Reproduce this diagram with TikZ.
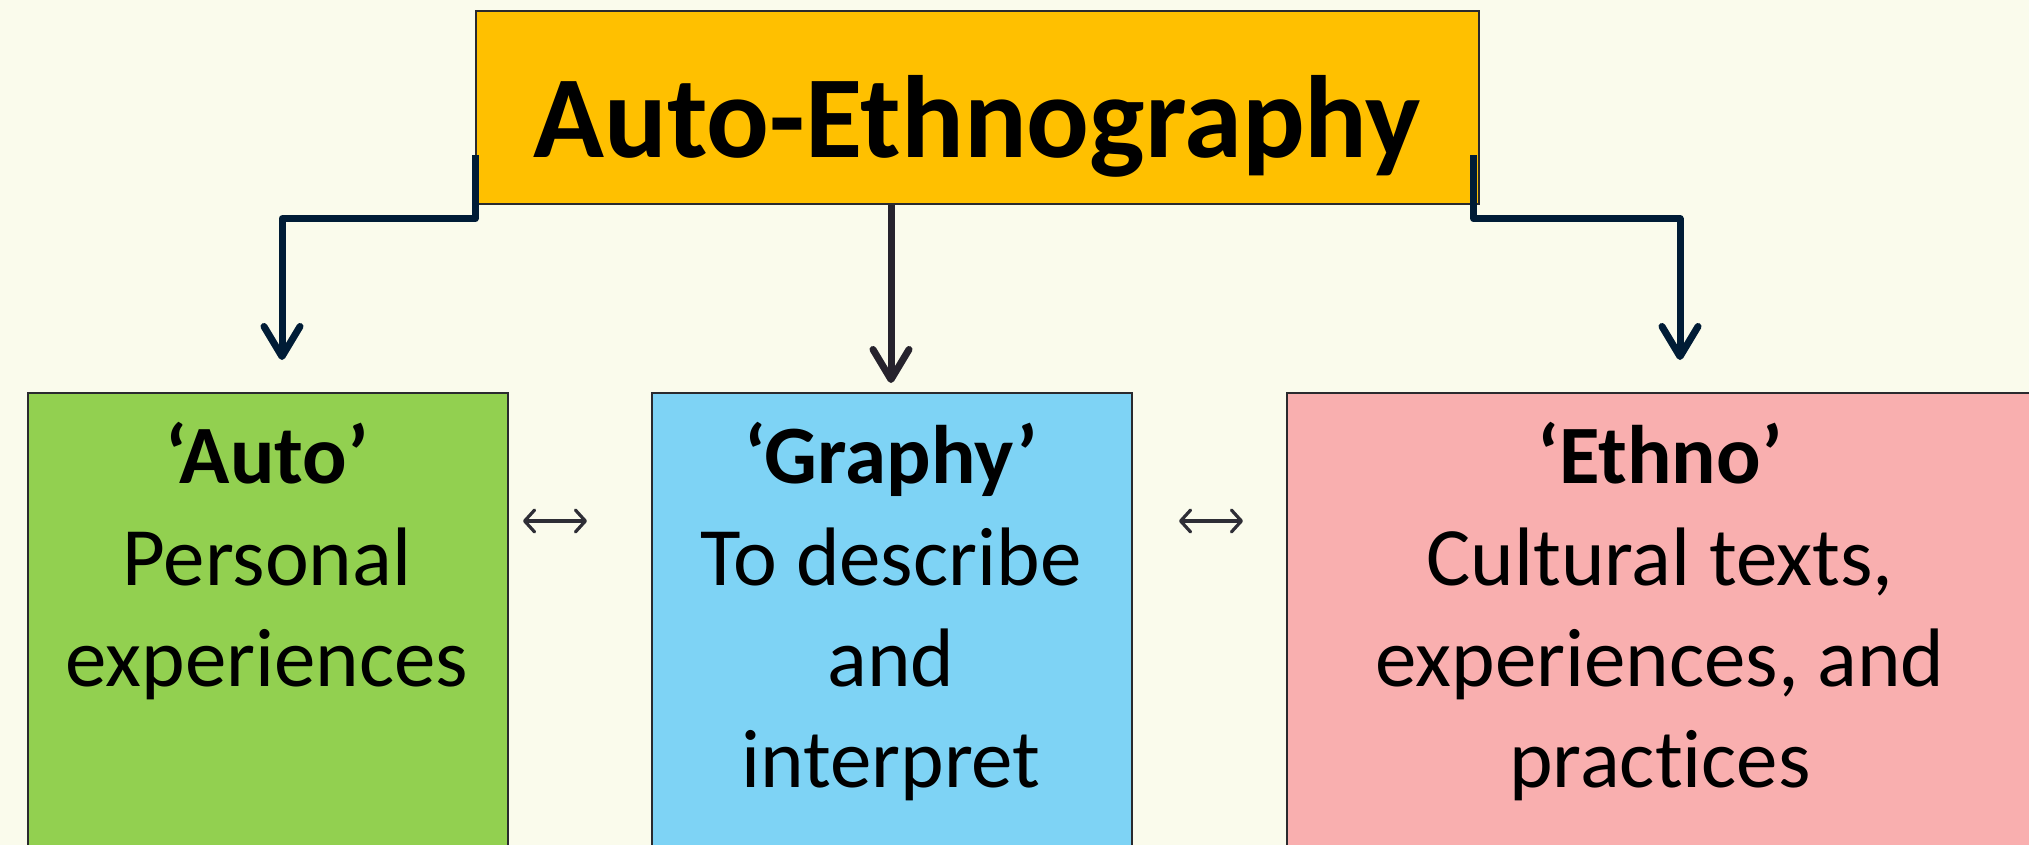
\documentclass[tikz,border=0pt]{standalone}
\usepackage{fontspec}
\setmainfont{Carlito}[Ligatures={NoCommon}]
\usetikzlibrary{arrows.meta,calc}
\definecolor{bgc}{HTML}{FAFBEC}
\definecolor{topc}{HTML}{FFC000}
\definecolor{greenc}{HTML}{92D050}
\definecolor{bluec}{HTML}{7ED3F5}
\definecolor{pinkc}{HTML}{F9AFAF}
\definecolor{boxline}{HTML}{2A2A2E}
\definecolor{navyc}{HTML}{001C36}
\definecolor{midc}{HTML}{26232D}
\definecolor{dblc}{HTML}{2E2E36}
\begin{document}
\begin{tikzpicture}[x=1pt,y=-1pt,
  box/.style={draw=boxline, line width=1.8pt, rectangle, inner sep=0pt, anchor=north west},
  txt/.style={anchor=base, inner sep=0pt, font=\fontsize{83}{100}\selectfont},
  hd/.style={anchor=base, inner sep=0pt, font=\fontsize{83}{100}\selectfont\bfseries},
  conn/.style={line width=7pt, line join=round, -{Straight Barb[length=30pt,width=36pt,round]}},
  dbl/.style={line width=3.2pt, draw=dblc, {Straight Barb[length=10pt,width=22pt,round]}-{Straight Barb[length=10pt,width=22pt,round]}}
]
\useasboundingbox (0,0) rectangle (2029,845);
\fill[bgc] (0,0) rectangle (2029,845);
\clip (0,0) rectangle (2029,845);

% top box
\node[box, fill=topc, minimum width=1003pt, minimum height=193pt] (top) at (475,10) {};
\node[anchor=base, inner sep=0pt, font=\fontsize{117}{130}\selectfont\bfseries] (title) at (977,158) {Auto-Ethnography};

% bottom boxes
\node[box, fill=greenc, minimum width=480pt, minimum height=600pt] (auto) at (27,392) {};
\node[box, fill=bluec, minimum width=480pt, minimum height=600pt] (graphy) at (651,392) {};
\node[box, fill=pinkc, minimum width=748pt, minimum height=600pt] (ethno) at (1286,392) {};

% texts
\node[hd]  (a1) at (267,483) {‘Auto’};
\node[txt] (a2) at (267,585) {Personal};
\node[txt] (a3) at (267,686) {experiences};

\node[hd]  (g1) at (891,483) {‘Graphy’};
\node[txt] (g2) at (891,585) {To describe};
\node[txt] (g3) at (891,686) {and};
\node[txt] (g4) at (891,787) {interpret};

\node[hd]  (e1) at (1660,483) {‘Ethno’};
\node[txt] (e2) at (1660,585) {Cultural texts,};
\node[txt] (e3) at (1660,686) {experiences, and};
\node[txt] (e4) at (1660,787) {practices};

% connectors
\coordinate (la) at (282,360);
\coordinate (ma) at (891,383);
\coordinate (ra) at (1680,360);
\draw[conn, draw=navyc] ($(top.south west)+(0,-50)$) -- ++(0,64) -| (la);
\draw[conn, draw=navyc] ($(top.south east)+(-6,-50)$) -- ++(0,64) -| (ra);
\draw[conn, draw=midc] (top.south -| ma) -- (ma);

% double arrows
\coordinate (d1a) at (523,521);
\coordinate (d1b) at (587,521);
\coordinate (d2a) at (1179,521);
\coordinate (d2b) at (1243,521);
\draw[dbl] (d1a) -- (d1b);
\draw[dbl] (d2a) -- (d2b);
\end{tikzpicture}
\end{document}
